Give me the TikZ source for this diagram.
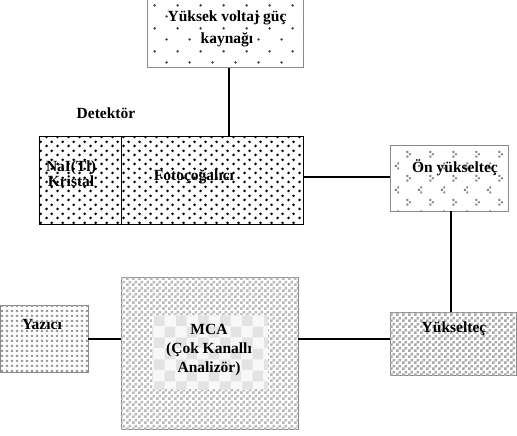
\documentclass[tikz,border=0pt]{standalone}
\usepackage{fontspec}
\setmainfont{Liberation Serif}
\usetikzlibrary{patterns}

\pgfdeclarepatternformonly{sparsedots}{\pgfqpoint{0pt}{0pt}}{\pgfqpoint{23pt}{23pt}}{\pgfqpoint{23pt}{23pt}}{
  \pgfpathcircle{\pgfqpoint{5.75pt}{5.75pt}}{1.4pt}
  \pgfpathcircle{\pgfqpoint{17.25pt}{17.25pt}}{1.4pt}
  \pgfusepath{fill}}
\pgfdeclarepatternformonly{detdots}{\pgfqpoint{0pt}{0pt}}{\pgfqpoint{11pt}{9pt}}{\pgfqpoint{11pt}{9pt}}{
  \pgfpathcircle{\pgfqpoint{2.75pt}{2.25pt}}{1.6pt}
  \pgfpathcircle{\pgfqpoint{8.25pt}{6.75pt}}{1.6pt}
  \pgfusepath{fill}}
\pgfdeclarepatternformonly{griddots}{\pgfqpoint{0pt}{0pt}}{\pgfqpoint{4.5pt}{4.5pt}}{\pgfqpoint{4.5pt}{4.5pt}}{
  \pgfpathrectangle{\pgfqpoint{1.1pt}{1.1pt}}{\pgfqpoint{2.3pt}{2.3pt}}
  \pgfusepath{fill}}
\pgfdeclarepatternformonly{chevrons}{\pgfqpoint{0pt}{0pt}}{\pgfqpoint{23pt}{24pt}}{\pgfqpoint{23pt}{24pt}}{
  \pgfpathrectangle{\pgfqpoint{6.5pt}{7.8pt}}{\pgfqpoint{2pt}{2pt}}
  \pgfpathrectangle{\pgfqpoint{4pt}{5.3pt}}{\pgfqpoint{2pt}{2pt}}
  \pgfpathrectangle{\pgfqpoint{6.5pt}{2.8pt}}{\pgfqpoint{2pt}{2pt}}
  \pgfpathrectangle{\pgfqpoint{16pt}{19.8pt}}{\pgfqpoint{2pt}{2pt}}
  \pgfpathrectangle{\pgfqpoint{18.5pt}{17.3pt}}{\pgfqpoint{2pt}{2pt}}
  \pgfpathrectangle{\pgfqpoint{16pt}{14.8pt}}{\pgfqpoint{2pt}{2pt}}
  \pgfusepath{fill}}
\pgfdeclarepatternformonly{finecheck}{\pgfqpoint{0pt}{0pt}}{\pgfqpoint{6pt}{6pt}}{\pgfqpoint{6pt}{6pt}}{
  \pgfpathrectangle{\pgfqpoint{0pt}{0pt}}{\pgfqpoint{3pt}{3pt}}
  \pgfpathrectangle{\pgfqpoint{3pt}{3pt}}{\pgfqpoint{3pt}{3pt}}
  \pgfusepath{fill}}
\pgfdeclarepatternformonly{bigcheck}{\pgfqpoint{0pt}{0pt}}{\pgfqpoint{22pt}{22pt}}{\pgfqpoint{22pt}{22pt}}{
  \pgfpathrectangle{\pgfqpoint{0pt}{0pt}}{\pgfqpoint{11pt}{11pt}}
  \pgfpathrectangle{\pgfqpoint{11pt}{11pt}}{\pgfqpoint{11pt}{11pt}}
  \pgfusepath{fill}}

\definecolor{bordergray}{HTML}{8A8A8A}
\definecolor{dotgray}{HTML}{404040}
\definecolor{lightdot}{HTML}{9A9A9A}
\definecolor{chevgray}{HTML}{808080}
\definecolor{checkgray}{HTML}{B8B8B8}
\definecolor{yukgray}{HTML}{A8A8A8}
\definecolor{innerbg}{HTML}{F8F8F8}
\definecolor{innersq}{HTML}{E3E3E3}

\tikzset{
  box/.style={draw=bordergray, line width=1pt, anchor=north west, inner sep=0pt, outer sep=0pt},
  lbl/.style={font=\bfseries\fontsize{15.5}{20}\selectfont, align=center, inner sep=0pt},
  wire/.style={line width=2pt, black}
}

\begin{document}
\begin{tikzpicture}[x=1pt, y=-1pt]
\useasboundingbox[fill=white] (0,0) rectangle (517,436);

% Yuksek voltaj guc kaynagi
\node[box, minimum width=156, minimum height=68, fill=white, postaction={pattern=sparsedots, pattern color=dotgray}] (hv) at (147,0) {};
\node[lbl, font=\bfseries\fontsize{15.5}{22}\selectfont] (hvt) at (227,29) {Yüksek voltaj güç\\kaynağı};

% Detektor
\node[lbl] (dett) at (106,113) {Detektör};
\node[box, draw=black, minimum width=82, minimum height=88, fill=white, postaction={pattern=detdots, pattern color=black}] (nai) at (39,136) {};
\node[box, draw=black, minimum width=182, minimum height=88, fill=white, postaction={pattern=detdots, pattern color=black}] (foto) at (121,136) {};
\node[lbl, font=\bfseries\fontsize{15.5}{14}\selectfont] (nait) at (71,174) {NaI(Tl)\\Kristal};
\node[lbl] (fotot) at (194,177) {Fotoçoğalıcı};

% On yukseltec
\node[box, minimum width=118, minimum height=66, fill=white, postaction={pattern=chevrons, pattern color=chevgray}] (on) at (390,145) {};
\node[lbl] (ont) at (455,168) {Ön yükselteç};

% Yukseltec
\node[box, minimum width=126, minimum height=63, fill=white, postaction={pattern=finecheck, pattern color=yukgray}] (yuk) at (390,312) {};
\node[lbl] (yukt) at (454,329) {Yükselteç};

% MCA
\node[box, minimum width=177, minimum height=152, fill=white, postaction={pattern=finecheck, pattern color=checkgray}] (mca) at (121,277) {};
\node[anchor=north west, inner sep=0pt, minimum width=116, minimum height=74, fill=innerbg, postaction={pattern=bigcheck, pattern color=innersq}] (mcain) at (152,315) {};
\node[lbl, font=\bfseries\fontsize{15.5}{19}\selectfont] (mcat) at (209,350) {MCA\\(Çok Kanallı\\Analizör)};

% Yazici
\node[box, minimum width=88, minimum height=67, fill=white, postaction={pattern=griddots, pattern color=lightdot}] (yaz) at (0,305) {};
\node[lbl] (yazt) at (42,324) {Yazıcı};

% connectors
\coordinate (vx1) at (229,0);
\coordinate (hy1) at (0,177);
\coordinate (vx2) at (451,0);
\coordinate (hy2) at (0,339);
\draw[wire] (hv.south -| vx1) -- (foto.north -| vx1);
\draw[wire] (foto.east |- hy1) -- (on.west |- hy1);
\draw[wire] (on.south -| vx2) -- (yuk.north -| vx2);
\draw[wire] (yuk.west |- hy2) -- (mca.east |- hy2);
\draw[wire] (mca.west |- hy2) -- (yaz.east |- hy2);
\end{tikzpicture}
\end{document}
